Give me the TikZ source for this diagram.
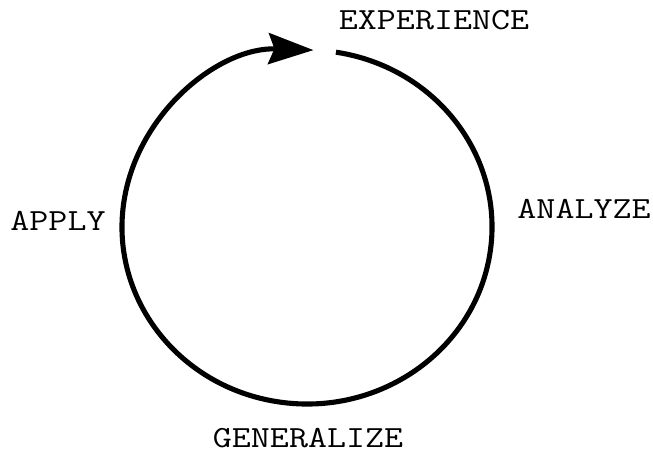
\documentclass[tikz,border=0pt]{standalone}
\usepackage{tikz}
\usetikzlibrary{arrows.meta}

\begin{document}
\begin{tikzpicture}[
    >=Stealth,
    lbl/.style={font=\ttfamily\fontsize{17.5}{19}\selectfont, inner sep=0pt, xscale=1.2, transform shape},
    cycle/.style={line width=2.9pt, -{Stealth[length=0.9cm, width=0.62cm, inset=0.12cm]}},
]
\useasboundingbox (0,0) rectangle (13.06,9.06);

% Cycle
\coordinate (c) at (6.14,4.52);
\draw[cycle] ([shift={(81:3.70 and 3.54)}]c)
    arc[start angle=81, end angle=-272, x radius=3.70, y radius=3.54];

% Stages
\node[lbl] (exp) at (8.68,8.66) {EXPERIENCE};
\node[lbl] (ana) at (11.68,4.88) {ANALYZE};
\node[lbl] (gen) at (6.16,0.30) {GENERALIZE};
\node[lbl] (app) at (1.16,4.64) {APPLY};

\end{tikzpicture}
\end{document}
